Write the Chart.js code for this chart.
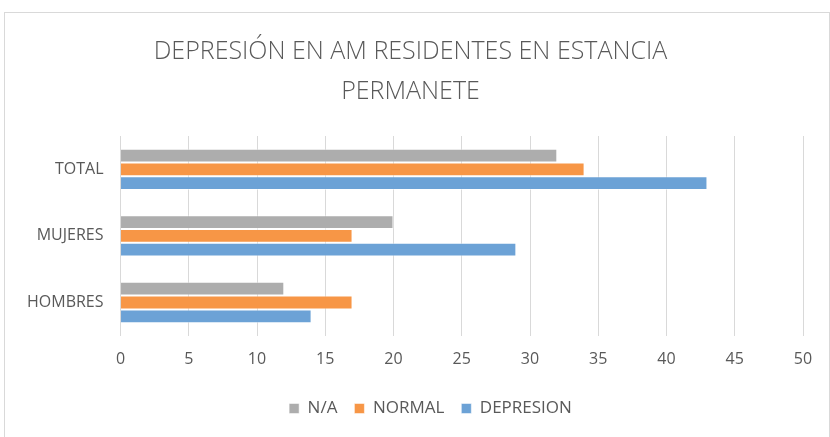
<!DOCTYPE html>
<html>
<head>
<meta charset="utf-8">
<script src="https://cdn.jsdelivr.net/npm/chart.js@4"></script>
<style>
  body { margin: 0; background: #fff; }
  #wrap { position: relative; width: 830px; height: 437px; }
  #frame { position: absolute; left: 4px; top: 12px; width: 826px; height: 430px; border: 1px solid #d9d9d9; box-sizing: border-box; pointer-events: none; }
</style>
</head>
<body>
<div id="wrap">
  <canvas id="chart" width="830" height="437"></canvas>
  <div id="frame"></div>
</div>
<script>
const categories = ["TOTAL", "MUJERES", "HOMBRES"];
const naValues = [32, 20, 12];
const normalValues = [34, 17, 17];
const depresionValues = [43, 29, 14];
const xTicks = [0, 5, 10, 15, 20, 25, 30, 35, 40, 45, 50];

const textColor = "#595959";
const fontFamily = "'Open Sans', sans-serif";

// legend in the original sits a bit right of centre
const legendShift = {
  id: "legendShift",
  afterLayout(chart) {
    chart.legend.left += 20;
    chart.legend.right += 20;
  }
};

const ctx = document.getElementById("chart").getContext("2d");

new Chart(ctx, {
  type: "bar",
  data: {
    labels: categories,
    datasets: [
      {
        label: "N/A",
        data: naValues,
        backgroundColor: "#adadad",
        borderColor: "rgba(255,255,255,0.5)",
        borderWidth: 1
      },
      {
        label: "NORMAL",
        data: normalValues,
        backgroundColor: "#f79646",
        borderColor: "rgba(255,255,255,0.5)",
        borderWidth: 1
      },
      {
        label: "DEPRESION",
        data: depresionValues,
        backgroundColor: "#6ca2d6",
        borderColor: "rgba(255,255,255,0.5)",
        borderWidth: 1
      }
    ]
  },
  plugins: [legendShift],
  options: {
    indexAxis: "y",
    responsive: false,
    animation: false,
    categoryPercentage: 0.62,
    barPercentage: 1.0,
    layout: { padding: { left: 18, right: 27, top: 32, bottom: 10 } },
    scales: {
      x: {
        min: 0,
        max: 50,
        afterBuildTicks: axis => { axis.ticks = xTicks.map(v => ({ value: v })); },
        grid: { color: "#d9d9d9", drawTicks: false },
        border: { display: false },
        ticks: { color: textColor, font: { family: fontFamily, size: 16 }, padding: 14 }
      },
      y: {
        grid: { display: false },
        border: { display: false },
        ticks: { color: textColor, font: { family: fontFamily, size: 16 }, padding: 9 }
      }
    },
    plugins: {
      title: {
        display: true,
        text: ["DEPRESIÓN EN AM RESIDENTES EN ESTANCIA", "PERMANETE"],
        color: textColor,
        font: { family: fontFamily, size: 25, weight: "300", lineHeight: 1.6 },
        padding: { top: 0, bottom: 24 }
      },
      legend: {
        position: "bottom",
        labels: {
          color: textColor,
          font: { family: fontFamily, size: 17 },
          boxWidth: 10,
          boxHeight: 10,
          padding: 17
        }
      },
      tooltip: { enabled: false }
    }
  }
});
</script>
</body>
</html>
